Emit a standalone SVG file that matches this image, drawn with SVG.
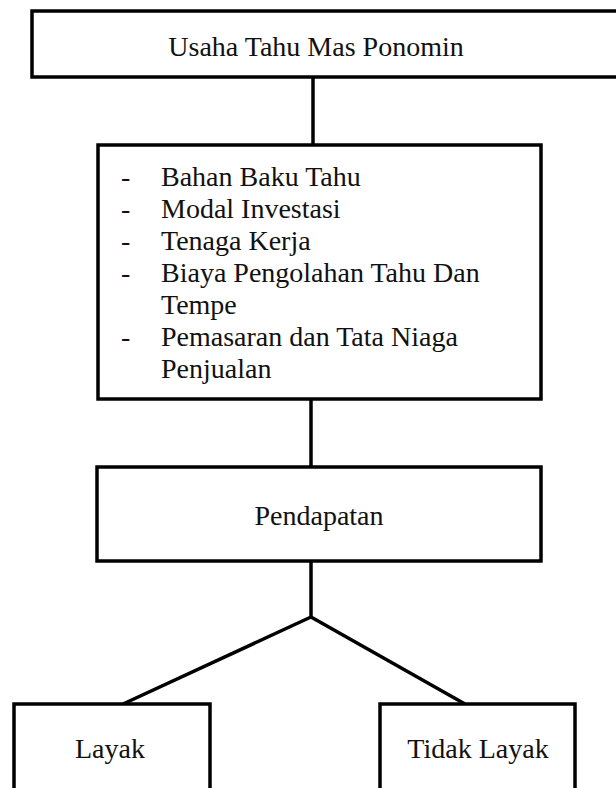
<svg xmlns="http://www.w3.org/2000/svg" width="616" height="788" viewBox="0 0 616 788">
<style>
.box{fill:#fff;stroke:#000;stroke-width:3.5}
.ln{stroke:#000;stroke-width:3.5;fill:none}
text{font-family:"Liberation Serif","Times New Roman",serif;font-size:28px;fill:#111}
.c{text-anchor:middle}
</style>
<rect width="616" height="788" fill="#fff"/>
<g id="connectors">
<line class="ln" x1="313" y1="77" x2="313" y2="145"/>
<line class="ln" x1="311" y1="399" x2="311" y2="467"/>
<polyline class="ln" points="311,561 311,617 123,704"/>
<polyline class="ln" points="311,617 465,704"/>
</g>
<g id="top">
<rect class="box" x="32" y="11" width="600" height="66"/>
<text class="c" x="316" y="56">Usaha Tahu Mas Ponomin</text>
</g>
<g id="faktor">
<rect class="box" x="98" y="145" width="443" height="254"/>
<text x="121" y="186">-</text><text x="161" y="186">Bahan Baku Tahu</text>
<text x="121" y="218">-</text><text x="161" y="218">Modal Investasi</text>
<text x="121" y="250">-</text><text x="161" y="250">Tenaga Kerja</text>
<text x="121" y="282">-</text><text x="161" y="282">Biaya Pengolahan Tahu Dan</text>
<text x="161" y="314">Tempe</text>
<text x="121" y="346">-</text><text x="161" y="346">Pemasaran dan Tata Niaga</text>
<text x="161" y="378">Penjualan</text>
</g>
<g id="pendapatan">
<rect class="box" x="97" y="467" width="444" height="94"/>
<text class="c" x="319" y="525">Pendapatan</text>
</g>
<g id="layak">
<rect class="box" x="14" y="704" width="196" height="90"/>
<text class="c" x="110" y="758">Layak</text>
</g>
<g id="tidaklayak">
<rect class="box" x="380" y="704" width="195" height="90"/>
<text class="c" x="478" y="758">Tidak Layak</text>
</g>
</svg>
